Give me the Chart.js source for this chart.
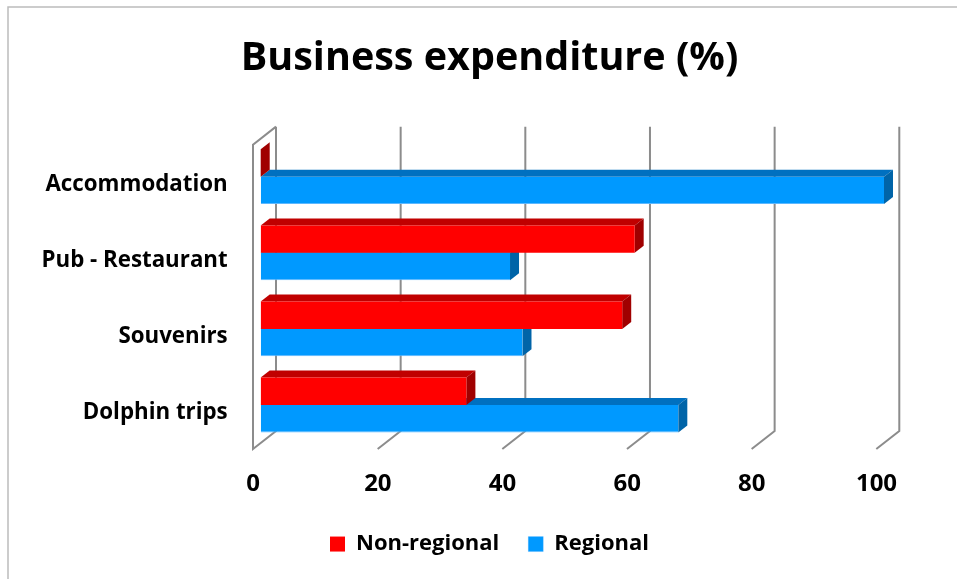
<!DOCTYPE html>
<html>
<head>
<meta charset="utf-8">
<title>Business expenditure (%)</title>
<script src="https://cdn.jsdelivr.net/npm/chart.js@4/dist/chart.umd.min.js"></script>
<style>
  html, body { margin: 0; padding: 0; background: #ffffff; }
  canvas { display: block; }
</style>
</head>
<body>
<canvas id="chart" width="957" height="579"></canvas>
<script>
// Spending split per business type
const categories = ['Accommodation', 'Pub - Restaurant', 'Souvenirs', 'Dolphin trips'];
const nonRegional = [0, 60, 58, 33];
const regional = [100, 40, 42, 67];
const xTickValues = [0, 20, 40, 60, 80, 100];

// Pseudo-3D geometry (pixels): bar depth and wall planes relative to the bar plane
const BAR_DEPTH = { dx: 9, dy: -7 };
const WALL_BACK = { dx: 15.3, dy: -12 };
const WALL_FRONT = { dx: -7.7, dy: 6 };

const faceColors = [
  { top: '#C00000', side: '#A00000' },   // Non-regional
  { top: '#0070C0', side: '#0064A8' }    // Regional
];

// White page with a thin frame on the top and left edges
const framePlugin = {
  id: 'frame',
  beforeDraw(chart) {
    const ctx = chart.ctx;
    ctx.save();
    ctx.fillStyle = '#ffffff';
    ctx.fillRect(0, 0, chart.width, chart.height);
    ctx.strokeStyle = '#bcbcbc';
    ctx.lineWidth = 1.5;
    ctx.beginPath();
    ctx.moveTo(8, chart.height);
    ctx.lineTo(8, 7);
    ctx.lineTo(chart.width, 7);
    ctx.stroke();
    ctx.restore();
  }
};

// Back wall gridlines, floor lines and left wall, then the bar top/side faces
const depthPlugin = {
  id: 'depth3d',
  beforeDatasetsDraw(chart) {
    const ctx = chart.ctx;
    const xs = chart.scales.x;
    const area = chart.chartArea;
    ctx.save();
    ctx.strokeStyle = '#8c8c8c';
    ctx.lineWidth = 2;
    ctx.lineCap = 'butt';
    xs.ticks.forEach(t => {
      const px = xs.getPixelForValue(t.value);
      const bx = px + WALL_BACK.dx;
      const fx = px + WALL_FRONT.dx;
      const topB = area.top + WALL_BACK.dy;
      const botB = area.bottom + WALL_BACK.dy;
      const topF = area.top + WALL_FRONT.dy;
      const botF = area.bottom + WALL_FRONT.dy;
      ctx.beginPath();
      ctx.moveTo(bx, topB);
      ctx.lineTo(bx, botB);
      ctx.lineTo(fx, botF);
      if (t.value === 0) {
        ctx.lineTo(fx, topF);
        ctx.lineTo(bx, topB);
      }
      ctx.stroke();
    });

    const face = (pts, color) => {
      ctx.fillStyle = color;
      ctx.beginPath();
      ctx.moveTo(pts[0][0], pts[0][1]);
      for (let k = 1; k < pts.length; k++) ctx.lineTo(pts[k][0], pts[k][1]);
      ctx.closePath();
      ctx.fill();
    };

    const n = categories.length;
    for (let i = 0; i < n; i++) {
      for (let d = chart.data.datasets.length - 1; d >= 0; d--) {
        const meta = chart.getDatasetMeta(d);
        const el = meta.data[i];
        if (!el) continue;
        const p = el.getProps(['x', 'y', 'base', 'height'], true);
        const left = Math.min(p.x, p.base);
        const right = Math.max(p.x, p.base);
        const top = p.y - p.height / 2;
        const bottom = p.y + p.height / 2;
        const { dx, dy } = BAR_DEPTH;
        face([[left, top], [left + dx, top + dy], [right + dx, top + dy], [right, top]], faceColors[d].top);
        face([[right, top], [right + dx, top + dy], [right + dx, bottom + dy], [right, bottom]], faceColors[d].side);
      }
    }
    ctx.restore();
  }
};

const fontFamily = '"Open Sans", Lato, "Liberation Sans", sans-serif';

new Chart(document.getElementById('chart'), {
  type: 'bar',
  data: {
    labels: categories,
    datasets: [
      {
        label: 'Non-regional',
        data: nonRegional,
        backgroundColor: '#FF0000',
        borderWidth: 0,
        yAxisID: 'y'
      },
      {
        label: 'Regional',
        data: regional,
        backgroundColor: '#0099FF',
        borderColor: '#5CB8FF',
        borderWidth: { top: 0, right: 0, bottom: 1, left: 0 },
        yAxisID: 'y'
      }
    ]
  },
  options: {
    indexAxis: 'y',
    responsive: false,
    animation: false,
    devicePixelRatio: 1,
    categoryPercentage: 0.72,
    barPercentage: 1.0,
    layout: { padding: { left: 22, right: 0, top: 0, bottom: 14.95 } },
    plugins: {
      title: {
        display: true,
        text: 'Business expenditure (%)',
        color: '#000000',
        font: { family: fontFamily, size: 39.5, weight: 'bold' },
        padding: { top: 35, bottom: 56.25 }
      },
      legend: {
        position: 'bottom',
        maxHeight: 60,
        labels: {
          color: '#000000',
          font: { family: fontFamily, size: 22, weight: 'bold' },
          boxWidth: 15,
          boxHeight: 15,
          padding: 29
        }
      },
      tooltip: { enabled: false }
    },
    scales: {
      y: {
        type: 'category',
        position: 'left',
        grid: { display: false, drawTicks: false },
        border: { display: false },
        ticks: {
          color: '#000000',
          font: { family: fontFamily, size: 22.3, weight: 'bold' },
          padding: 33,
          labelOffset: 8
        },
        afterFit(s) { s.width = 238.7; }
      },
      yRight: {
        type: 'linear',
        position: 'right',
        grid: { display: false, drawTicks: false },
        border: { display: false },
        ticks: { display: false },
        afterFit(s) { s.width = 73; }
      },
      x: {
        type: 'linear',
        min: 0,
        max: 100,
        afterBuildTicks(s) { s.ticks = xTickValues.map(v => ({ value: v })); },
        grid: { display: false, drawTicks: false },
        border: { display: false },
        ticks: {
          color: '#000000',
          font: { family: fontFamily, size: 24, weight: 'bold' },
          padding: 27,
          labelOffset: -7.5
        },
        afterFit(s) { s.height = 61; }
      }
    }
  },
  plugins: [framePlugin, depthPlugin]
});
</script>
</body>
</html>
